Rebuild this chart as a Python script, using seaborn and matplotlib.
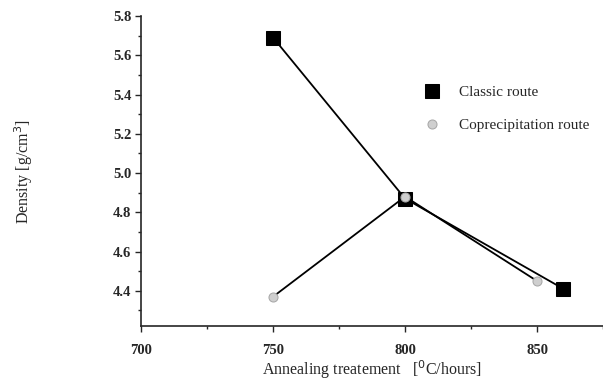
import matplotlib
matplotlib.use("Agg")
import matplotlib.pyplot as plt
import seaborn as sns
import pandas as pd
from matplotlib.ticker import MultipleLocator

sns.set_style("ticks")
plt.rcParams['font.family'] = ['Liberation Serif', 'DejaVu Serif']

classic_x = [750, 800, 860]
classic_y = [5.69, 4.87, 4.41]
copre_x = [750, 800, 850]
copre_y = [4.37, 4.88, 4.45]

fig = plt.figure(figsize=(6.03, 3.81), dpi=100)
ax = fig.add_axes([0.234, 0.144, 0.766, 0.814])

df1 = pd.DataFrame({"x": classic_x, "y": classic_y})
df2 = pd.DataFrame({"x": copre_x, "y": copre_y})

sns.lineplot(data=df1, x="x", y="y", ax=ax, color="black", lw=1.3,
             marker="s", markersize=10, markerfacecolor="black",
             markeredgecolor="black", label="Classic route", zorder=3)
sns.lineplot(data=df2, x="x", y="y", ax=ax, color="black", lw=1.3,
             marker="o", markersize=6.5, markerfacecolor="#cfcfcf",
             markeredgecolor="#a8a8a8", label="Coprecipitation route", zorder=4)

ax.set_xlim(700, 875)
ax.set_ylim(4.22, 5.8)
ax.set_xticks([700, 750, 800, 850])
ax.xaxis.set_minor_locator(MultipleLocator(25))
yt = [4.4, 4.6, 4.8, 5.0, 5.2, 5.4, 5.6, 5.8]
ax.set_yticks(yt)
ax.yaxis.set_minor_locator(MultipleLocator(0.1))
ax.set_yticklabels([f"{v:.1f}" for v in yt])
ax.tick_params(axis='both', which='major', length=4, width=1, labelsize=10.5, pad=3)
ax.tick_params(axis='both', which='minor', length=2, width=1)
for lab in ax.get_xticklabels() + ax.get_yticklabels():
    lab.set_fontweight('bold')
ax.xaxis.set_tick_params(pad=9)
for s in ['top', 'right']:
    ax.spines[s].set_visible(False)
for s in ['left', 'bottom']:
    ax.spines[s].set_linewidth(1.2)

ax.set_xlabel("Annealing treatement   [$^{0}$C/hours]", fontsize=11.5, labelpad=1)
ax.set_ylabel("Density [g/cm$^{3}$]", fontsize=11.5, labelpad=56)

leg = ax.legend(loc="upper left", bbox_to_anchor=(0.6, 0.82), frameon=False,
                fontsize=11, handlelength=0, handletextpad=1.8, labelspacing=1.25,
                markerscale=1.0)

fig.savefig("out.png", dpi=100)
